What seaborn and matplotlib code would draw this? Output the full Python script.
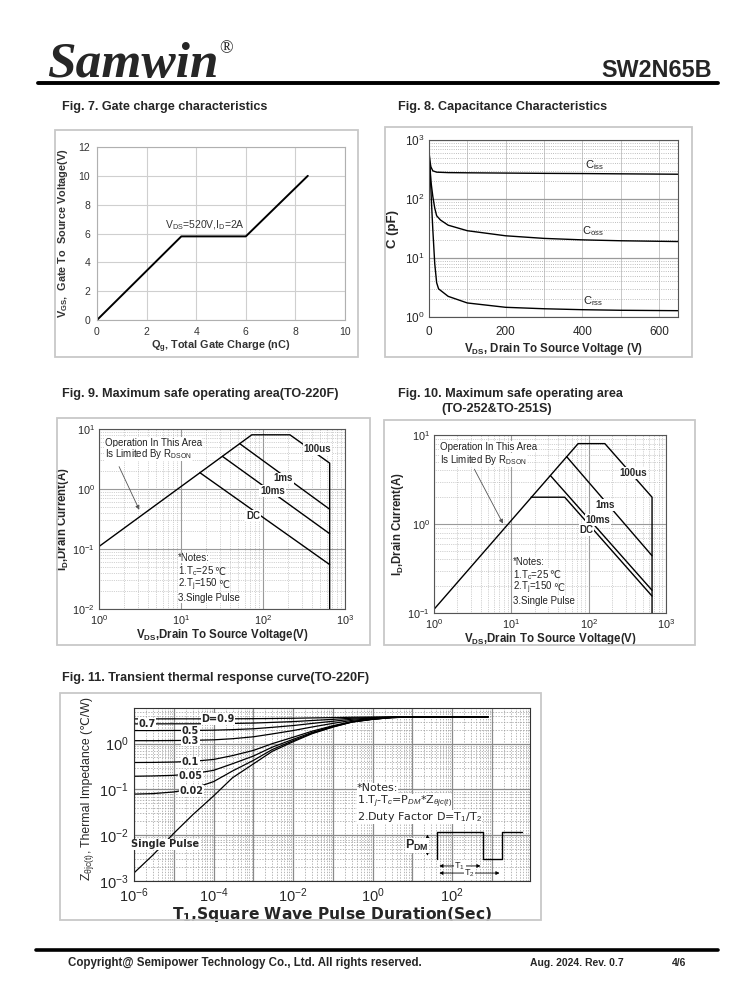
import numpy as np
import pandas as pd
import seaborn as sns
import matplotlib.pyplot as plt
from matplotlib import font_manager
from matplotlib.patches import Rectangle
from matplotlib.lines import Line2D
from matplotlib.ticker import LogLocator, NullFormatter, MultipleLocator, FuncFormatter

# Fig. 7 gate charge
qg = [0, 3.4, 6.0, 8.5]
vgs = [0, 5.8, 5.8, 10]

# Fig. 8 capacitance
vds_ciss = [0.5, 2, 5, 10, 20, 50, 100, 200, 300, 400, 500, 650]
ciss = [600, 450, 350, 300, 285, 280, 278, 275, 272, 270, 267, 263]
vds_coss = [0.5, 2, 5, 10, 15, 20, 30, 50, 100, 200, 300, 400, 500, 650]
coss = [600, 400, 200, 110, 70, 52, 44, 36, 29, 23.8, 21.5, 20.3, 19.6, 19]
vds_crss = [0.5, 3, 6, 10, 15, 20, 25, 50, 100, 200, 300, 400, 500, 650]
crss = [550, 300, 100, 30, 8, 3.8, 3.0, 2.24, 1.73, 1.46, 1.38, 1.33, 1.3, 1.28]

# Fig. 9 SOA (TO-220F)
soa9_lim_v = [1, 73, 213, 650, 650]
soa9_lim_i = [0.11, 8, 8, 2.7, 0.01]
soa9_1ms_v, soa9_1ms_i = [52, 650], [5.7, 0.46]
soa9_10ms_v, soa9_10ms_i = [32, 650], [3.5, 0.18]
soa9_dc_v, soa9_dc_i = [17, 650], [1.87, 0.055]

# Fig. 10 SOA (TO-252 & TO-251S)
soa10_lim_v = [1, 73, 162, 660, 660]
soa10_lim_i = [0.11, 8, 8, 2.0, 0.1]
soa10_1ms_v, soa10_1ms_i = [52, 660], [5.7, 0.44]
soa10_10ms_v, soa10_10ms_i = [32, 660], [3.5, 0.18]
soa10_dc_v, soa10_dc_i = [18, 49, 660], [2.0, 2.0, 0.155]

# Fig. 11 transient thermal impedance
t_pulse = [1e-6, 3e-6, 1e-5, 3e-5, 1e-4, 3e-4, 1e-3, 3e-3, 1e-2, 3e-2,
           1e-1, 3e-1, 1, 3, 10, 100, 800]
z_single = [0.0015, 0.0037, 0.011, 0.028, 0.072, 0.18, 0.36, 0.68, 1.1, 1.65,
            2.3, 2.95, 3.4, 3.7, 3.82, 3.86, 3.86]
z_d09 = [3.47, 3.47, 3.48, 3.48, 3.48, 3.49, 3.51, 3.54, 3.58, 3.64, 3.70, 3.77, 3.81, 3.84, 3.86, 3.86, 3.86]
z_d07 = [2.70, 2.70, 2.71, 2.71, 2.72, 2.76, 2.81, 2.91, 3.03, 3.20, 3.39, 3.59, 3.72, 3.81, 3.85, 3.86, 3.86]
z_d05 = [1.93, 1.93, 1.94, 1.94, 1.97, 2.02, 2.11, 2.27, 2.48, 2.76, 3.08, 3.41, 3.63, 3.78, 3.84, 3.86, 3.86]
z_d03 = [1.16, 1.16, 1.17, 1.18, 1.21, 1.28, 1.41, 1.63, 1.93, 2.31, 2.77, 3.22, 3.54, 3.75, 3.83, 3.86, 3.86]
z_d01 = [0.387, 0.389, 0.396, 0.411, 0.451, 0.548, 0.710, 1.00, 1.38, 1.87, 2.46, 3.04, 3.45, 3.72, 3.82, 3.86, 3.86]
z_d005 = [0.194, 0.197, 0.203, 0.220, 0.261, 0.364, 0.535, 0.839, 1.24, 1.76, 2.38, 2.99, 3.42, 3.71, 3.82, 3.86, 3.86]
z_d002 = [0.079, 0.081, 0.088, 0.104, 0.148, 0.253, 0.430, 0.744, 1.16, 1.69, 2.33, 2.97, 3.41, 3.70, 3.82, 3.86, 3.86]
d_labels = ['D=0.9', '0.7', '0.5', '0.3', '0.1', '0.05', '0.02']
d_label_t = [1.3e-4, 2.1e-6, 2.6e-5, 2.6e-5, 2.6e-5, 2.6e-5, 2.8e-5]
d_label_z = [3.47, 2.70, 1.93, 1.16, 0.39, 0.20, 0.092]

sns.set_style("white")
names = {f.name for f in font_manager.fontManager.ttflist}
narrow = 'Liberation Sans Narrow' if 'Liberation Sans Narrow' in names else 'Liberation Sans'
plt.rcParams['font.family'] = ['Liberation Sans', 'DejaVu Sans']
plt.rcParams['mathtext.fontset'] = 'custom'
plt.rcParams['mathtext.rm'] = 'Liberation Sans'
plt.rcParams['mathtext.it'] = 'Liberation Sans:italic'
plt.rcParams['mathtext.bf'] = 'Liberation Sans:bold'

W, H = 738, 1000
fig = plt.figure(figsize=(7.38, 10), dpi=100)


def rect(x0, y0, x1, y1):
    return [x0 / W, 1 - y1 / H, (x1 - x0) / W, (y1 - y0) / H]


def frame(x0, y0, x1, y1):
    fig.patches.append(Rectangle((x0 / W, 1 - y1 / H), (x1 - x0) / W, (y1 - y0) / H,
                                 transform=fig.transFigure, fill=False,
                                 ec='#c8c8c8', lw=1.3))


def curve(ax, x, y, lw=1.0):
    sns.lineplot(x=x, y=y, ax=ax, estimator=None, sort=False, color='black', lw=lw)


def ftext(x, y, s, **kw):
    fig.text(x / W, 1 - y / H, s, **kw)


def celsius_note(ax, x, y, s, **kw):
    # text with subscript, then a plain-text degree sign appended after it
    t = ax.text(x, y, s, transform=ax.transAxes, **kw)
    ax.annotate('\u2103', xy=(1, 0.5), xycoords=t, ha='left', va='center',
                fontsize=kw.get('fontsize', 8), family=['DejaVu Sans'], color=kw.get('color', 'black'))


# header / footer
ftext(47, 77, 'Samwin', family='Liberation Serif', weight='bold', style='italic',
      fontsize=37, va='baseline')
ftext(219, 53, '\u00ae', family='Liberation Serif', fontsize=13, va='baseline')
ftext(712, 77, 'SW2N65B', weight='bold', fontsize=16.8, ha='right', va='baseline')
fig.add_artist(Line2D([38 / W, 718 / W], [1 - 83 / H] * 2, lw=2.8, color='black'))
fig.add_artist(Line2D([36 / W, 718 / W], [1 - 950 / H] * 2, lw=2.6, color='black'))
ftext(68, 966, 'Copyright@ Semipower Technology Co., Ltd. All rights reserved.',
      family=narrow, weight='bold', fontsize=8.3, va='baseline')
ftext(530, 966, 'Aug. 2024. Rev. 0.7', family=narrow, weight='bold', fontsize=7.5, va='baseline')
ftext(672, 966, '4/6', family=narrow, weight='bold', fontsize=7.5, va='baseline')

title_kw = dict(family=narrow, weight='bold', fontsize=9.1, va='baseline')
ftext(62, 110, 'Fig. 7. Gate charge characteristics', **title_kw)
ftext(398, 110, 'Fig. 8. Capacitance Characteristics', **title_kw)
ftext(62, 397, 'Fig. 9. Maximum safe operating area(TO-220F)', **title_kw)
ftext(398, 397, 'Fig. 10. Maximum safe operating area', **title_kw)
ftext(441, 412, '(TO-252&TO-251S)', **title_kw)
ftext(62, 681, 'Fig. 11. Transient thermal response curve(TO-220F)', **title_kw)

frame(55, 130, 358, 357)
frame(385, 127, 692, 357)
frame(57, 418, 370, 645)
frame(384, 420, 695, 645)
frame(60, 693, 541, 920)

# ---- Fig. 7 ----
ax7 = fig.add_axes(rect(97, 147, 345, 320))
curve(ax7, qg, vgs, lw=1.4)
ax7.set_xlim(0, 10)
ax7.set_ylim(0, 12)
ax7.set_xticks(range(0, 11, 2))
ax7.set_yticks(range(0, 13, 2))
ax7.grid(True, color='#cfcfcf', lw=0.8)
for s in ax7.spines.values():
    s.set_color('#b0b0b0')
ax7.tick_params(length=0, labelsize=7.5, labelcolor='#333333', pad=5)
ax7.set_xlabel('Q$_\\mathregular{g}$, Total Gate Charge (nC)', fontsize=7.8,
               weight='bold', color='#333333', labelpad=1)
ax7.set_ylabel('V$_\\mathregular{GS}$,  Gate To  Source Voltage(V)', fontsize=7.8,
               weight='bold', color='#333333', labelpad=6)
ax7.text(4.35, 6.1, 'V$_\\mathregular{DS}$=520V,I$_\\mathregular{D}$=2A', fontsize=7.5,
         color='#333333', ha='center', va='bottom')

# ---- Fig. 8 ----
ax8 = fig.add_axes(rect(429, 140, 678, 317))
curve(ax8, vds_ciss, ciss)
curve(ax8, vds_coss, coss)
curve(ax8, vds_crss, crss)
ax8.set_yscale('log')
ax8.set_xlim(0, 650)
ax8.set_ylim(1, 1000)
ax8.set_xticks([0, 200, 400, 600])
ax8.xaxis.set_minor_locator(MultipleLocator(100))
ax8.yaxis.set_minor_locator(LogLocator(base=10, subs=np.arange(2, 10)))
ax8.yaxis.set_minor_formatter(NullFormatter())
ax8.grid(True, which='major', axis='y', color='#9a9a9a', lw=0.9)
ax8.grid(True, which='minor', axis='y', color='#a8a8a8', lw=0.6, ls=':')
ax8.grid(True, which='both', axis='x', color='#c8c8c8', lw=0.7)
for s in ax8.spines.values():
    s.set_color('#555555')
ax8.tick_params(axis='x', which='both', direction='out', length=3, labelsize=8.5, width=0.6)
ax8.tick_params(axis='y', which='both', length=0, labelsize=8.5)
ax8.set_xlabel('V$_\\mathregular{DS}$, Drain To Source Voltage (V)', fontsize=8.3,
               weight='bold', labelpad=2)
ax8.set_ylabel('C (pF)', fontsize=9.5, weight='bold', labelpad=4)
for lab, sub, x, y in [('C', 'iss', 432, 378), ('C', 'oss', 428, 29), ('C', 'rss', 428, 1.84)]:
    ax8.text(x, y, lab + '$_\\mathregular{' + sub + '}$', fontsize=8, ha='center', va='center',
             color='#222222')


# ---- SOA helper ----
def soa_axes(ax, ymin):
    ax.set_xscale('log')
    ax.set_yscale('log')
    ax.set_xlim(1, 1000)
    ax.set_ylim(ymin, 10)
    for a in (ax.xaxis, ax.yaxis):
        a.set_major_locator(LogLocator(base=10, numticks=10))
        a.set_minor_locator(LogLocator(base=10, subs=np.arange(2, 10), numticks=10))
        a.set_minor_formatter(NullFormatter())
    ax.grid(True, which='major', color='#9a9a9a', lw=0.8)
    ax.grid(True, which='minor', color='#a8a8a8', lw=0.5, ls=':')
    for s in ax.spines.values():
        s.set_color('#555555')
    ax.tick_params(which='both', length=0, labelsize=7.8, pad=3)
    ax.set_xlabel('V$_\\mathregular{DS}$,Drain To Source Voltage(V)', fontsize=8.3,
                  weight='bold', labelpad=0)
    ax.set_ylabel('I$_\\mathregular{D}$,Drain Current(A)', fontsize=8.3, weight='bold', labelpad=1)


lab_kw = dict(fontsize=7, weight='bold', ha='center', va='center',
              bbox=dict(fc='white', ec='none', pad=0.6))
note_kw = dict(fontsize=7.0, ha='left', va='center', color='#222222',
               bbox=dict(fc='white', ec='none', pad=0.1))
notes = ['*Notes:', '1.T$_\\mathregular{c}$=25', '2.T$_\\mathregular{j}$=150', '3.Single Pulse']

# ---- Fig. 9 ----
ax9 = fig.add_axes(rect(99, 429, 345, 609))
curve(ax9, soa9_lim_v, soa9_lim_i)
curve(ax9, soa9_1ms_v, soa9_1ms_i)
curve(ax9, soa9_10ms_v, soa9_10ms_i)
curve(ax9, soa9_dc_v, soa9_dc_i)
soa_axes(ax9, 0.01)
for s, x, y in [('100us', 460, 4.6), ('1ms', 177, 1.5), ('10ms', 131, 0.92), ('DC', 76, 0.36)]:
    ax9.text(x, y, s, **lab_kw)
ax9.text(0.025, 0.925, 'Operation In This Area', transform=ax9.transAxes, **note_kw)
ax9.text(0.025, 0.86, 'Is Limited By R$_\\mathregular{DSON}$', transform=ax9.transAxes, **note_kw)
ax9.annotate('', xy=(3.2, 0.41), xytext=(1.7, 2.6),
             arrowprops=dict(arrowstyle='-|>', color='#555555', lw=0.6, mutation_scale=6))
for i, s in enumerate(notes):
    if i in (1, 2):
        celsius_note(ax9, 0.322, 0.282 - 0.074 * i, s, **note_kw)
    else:
        ax9.text(0.322, 0.282 - 0.074 * i, s, transform=ax9.transAxes, **note_kw)

# ---- Fig. 10 ----
ax10 = fig.add_axes(rect(434, 435, 666, 613))
curve(ax10, soa10_lim_v, soa10_lim_i)
curve(ax10, soa10_1ms_v, soa10_1ms_i)
curve(ax10, soa10_10ms_v, soa10_10ms_i)
curve(ax10, soa10_dc_v, soa10_dc_i)
soa_axes(ax10, 0.1)
for s, x, y in [('100us', 377, 3.77), ('1ms', 165, 1.63), ('10ms', 133, 1.1), ('DC', 94, 0.85)]:
    ax10.text(x, y, s, **lab_kw)
ax10.text(0.025, 0.935, 'Operation In This Area', transform=ax10.transAxes, **note_kw)
ax10.text(0.025, 0.86, 'Is Limited By R$_\\mathregular{DSON}$', transform=ax10.transAxes, **note_kw)
ax10.annotate('', xy=(8.1, 0.95), xytext=(3.2, 4.4),
              arrowprops=dict(arrowstyle='-|>', color='#555555', lw=0.6, mutation_scale=6))
for i, s in enumerate(notes):
    if i in (1, 2):
        celsius_note(ax10, 0.341, 0.287 - 0.074 * i, s, **note_kw)
    else:
        ax10.text(0.341, 0.287 - 0.074 * i, s, transform=ax10.transAxes, **note_kw)

# ---- Fig. 11 ----
ax11 = fig.add_axes(rect(134, 708, 530, 881))
for z in [z_single, z_d09, z_d07, z_d05, z_d03, z_d01, z_d005, z_d002]:
    curve(ax11, t_pulse, z, lw=0.9)
ax11.set_xscale('log')
ax11.set_yscale('log')
ax11.set_xlim(1e-6, 9e3)
ax11.set_ylim(1e-3, 6)
ax11.xaxis.set_major_locator(LogLocator(base=10, numticks=20))
ax11.xaxis.set_major_formatter(FuncFormatter(
    lambda v, p: '$10^{%d}$' % round(np.log10(v)) if round(np.log10(v)) % 2 == 0 else ''))
ax11.yaxis.set_major_locator(LogLocator(base=10, numticks=10))
for a in (ax11.xaxis, ax11.yaxis):
    a.set_minor_locator(LogLocator(base=10, subs=np.arange(2, 10), numticks=20))
    a.set_minor_formatter(NullFormatter())
ax11.grid(True, which='major', color='#8a8a8a', lw=0.9)
ax11.grid(True, which='minor', color='#9a9a9a', lw=0.5, ls=(0, (2, 2)))
for s in ax11.spines.values():
    s.set_color('#333333')
ax11.tick_params(which='major', direction='in', length=4, labelsize=10.5, pad=4)
ax11.tick_params(which='minor', direction='in', length=2)
ax11.set_xlabel('T$_\\mathregular{1}$,Square Wave Pulse Duration(Sec)', fontsize=11.2,
                weight='bold', family=['DejaVu Sans'], labelpad=0)
# y label in two pieces so the degree-Celsius sign can come from DejaVu Sans
yl1 = ax11.text(-0.112, 0.0, 'Z$_\\mathregular{\u03b8jc(t)}$,', transform=ax11.transAxes,
                rotation=90, rotation_mode='anchor', ha='left', va='baseline', fontsize=8.8)
bb = yl1.get_window_extent(fig.canvas.get_renderer())
y_top = ax11.transAxes.inverted().transform((0, bb.y1))[1]
ax11.text(-0.112, y_top, ' Thermal Impedance (\u2103/W)', transform=ax11.transAxes,
          rotation=90, rotation_mode='anchor', ha='left', va='baseline', fontsize=8.8,
          family=['Liberation Sans', 'DejaVu Sans'])
for s, t, z in zip(d_labels, d_label_t, d_label_z):
    ax11.text(t, z, s, fontsize=7, weight='bold', ha='center', va='center',
              family=['DejaVu Sans'], bbox=dict(fc='white', ec='none', pad=0.5))
ax11.text(6e-6, 0.0063, 'Single Pulse', fontsize=7, weight='bold', ha='center', va='center',
          family=['DejaVu Sans'], bbox=dict(fc='white', ec='none', pad=0.5))
nk = dict(transform=ax11.transAxes, fontsize=8.0, ha='left', va='center', family=['DejaVu Sans'],
          bbox=dict(fc='white', ec='none', pad=0.1))
ax11.text(0.563, 0.535, '*Notes:', **nk)
ax11.text(0.563, 0.455, '1.T$_j$-T$_c$=P$_{DM}$*Z$_{\\theta jc(t)}$', **nk)
ax11.text(0.563, 0.368, '2.Duty Factor D=T$_1$/T$_2$', **nk)
tr = ax11.transAxes
ax11.plot([0.764, 0.764, 0.882, 0.882, 0.930, 0.930, 0.979],
          [0.13, 0.281, 0.281, 0.13, 0.13, 0.281, 0.281], transform=tr, color='black', lw=1)
ax11.annotate('', xy=(0.741, 0.285), xytext=(0.741, 0.13), xycoords=tr,
              arrowprops=dict(arrowstyle='<|-|>', lw=0.6, color='black', mutation_scale=5))
ax11.text(0.715, 0.205, 'P$_\\mathregular{DM}$', transform=tr, fontsize=9, weight='bold',
          ha='center', va='center', bbox=dict(fc='white', ec='none', pad=0.3))
ax11.annotate('', xy=(0.882, 0.087), xytext=(0.764, 0.087), xycoords=tr,
              arrowprops=dict(arrowstyle='<|-|>', lw=0.6, color='black', mutation_scale=5))
ax11.annotate('', xy=(0.930, 0.046), xytext=(0.764, 0.046), xycoords=tr,
              arrowprops=dict(arrowstyle='<|-|>', lw=0.6, color='black', mutation_scale=5))
ax11.text(0.823, 0.087, 'T$_1$', transform=tr, fontsize=6.5, ha='center', va='center',
          bbox=dict(fc='white', ec='none', pad=0.3))
ax11.text(0.847, 0.046, 'T$_2$', transform=tr, fontsize=6.5, ha='center', va='center',
          bbox=dict(fc='white', ec='none', pad=0.3))

fig.savefig('out.png', dpi=100, facecolor='white')
